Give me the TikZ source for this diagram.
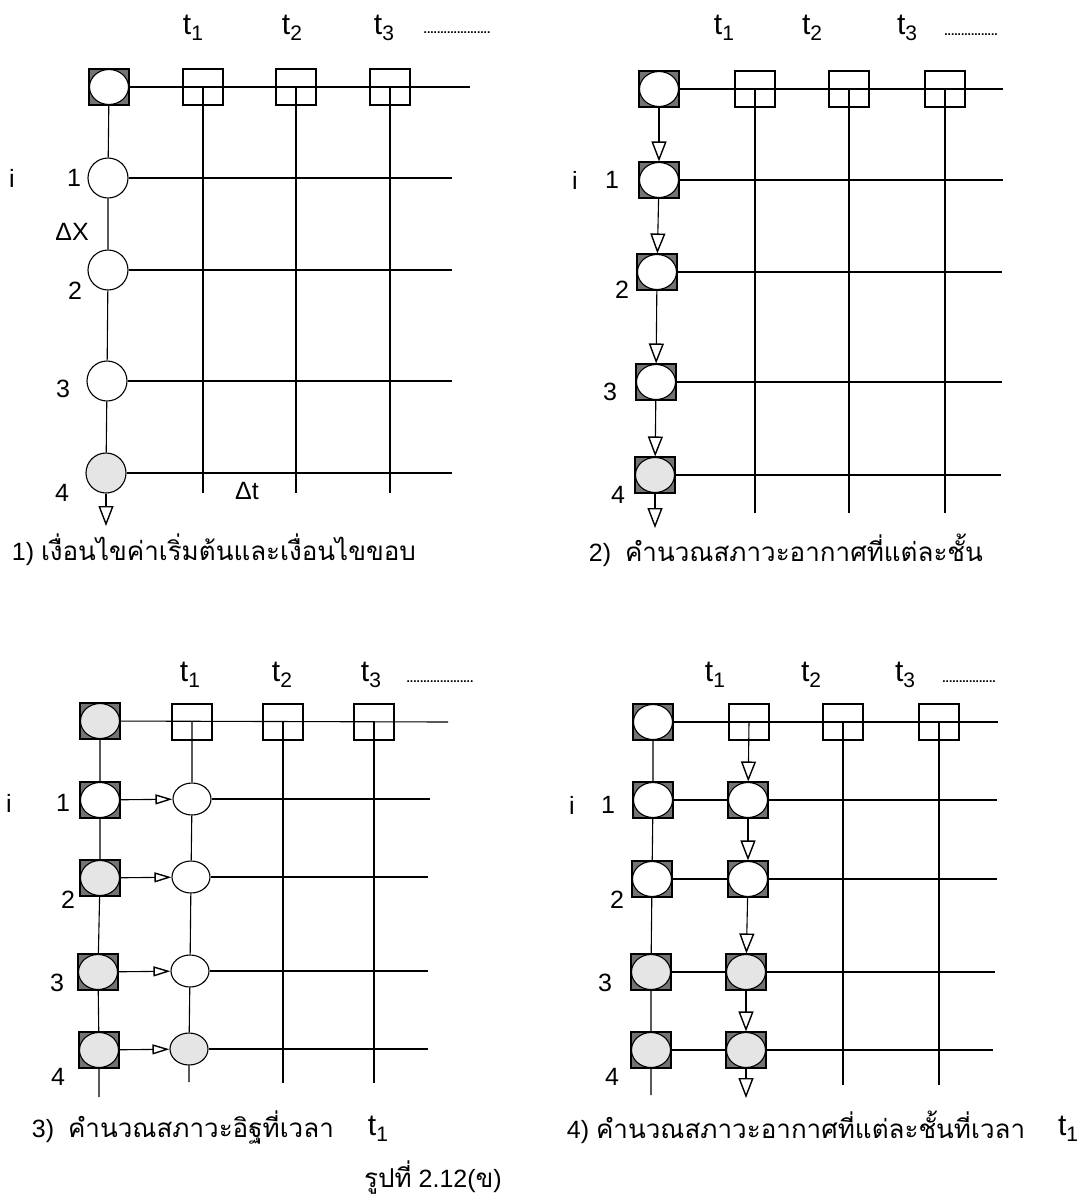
\documentclass[tikz,border=0pt]{standalone}
\usepackage{fontspec}
\setmainfont{Liberation Sans}
\newfontfamily\thaifont[Script=Thai]{Loma}
\usetikzlibrary{shapes.geometric,arrows.meta}

\newcommand{\tlab}[1]{{\fontsize{30}{30}\selectfont t}\raisebox{-0.45ex}{\fontsize{21}{21}\selectfont #1}}
\newcommand{\thaicap}[1]{{\thaifont\fontsize{26}{30}\selectfont #1}}

\begin{document}
\begin{tikzpicture}[x=1pt,y=-1pt,line width=1.1pt,font=\fontsize{25}{28}\selectfont,
    >={Triangle[open,length=20pt,width=15pt,line width=1.4pt]}]
  \tikzstyle{ring}=[circle,draw,minimum size=40pt,inner sep=0pt]
  \tikzstyle{oval}=[ellipse,draw,minimum width=38pt,minimum height=32pt,inner sep=0pt]
  \tikzstyle{tbox}=[rectangle,draw,minimum width=40pt,minimum height=36pt,inner sep=0pt]
  \tikzstyle{boxring}=[tbox,fill=black!55,path picture={\draw[fill=white] (path picture bounding box.center) ellipse (19.5pt and 17.5pt);}]
  \tikzstyle{boxdot}=[tbox,fill=black!55,path picture={\draw[fill=black!10] (path picture bounding box.center) ellipse (19.5pt and 17.5pt);}]
  \tikzstyle{dots}=[font=\bfseries\fontsize{12}{12}\selectfont]
  \tikzstyle{small}=[>={Triangle[open,length=17pt,width=10pt,line width=1.4pt]}]

  \useasboundingbox (0,0) rectangle (1084,1203);

  % 1)
  \node[boxring] (A0) at (109,87) {};
  \node[tbox] (At1) at (203,87) {};
  \node[tbox] (At2) at (296,87) {};
  \node[tbox] (At3) at (390,87) {};
  \node[ring] (A1) at (108,178) {};
  \node[ring] (A2) at (108,270) {};
  \node[ring] (A3) at (107,381) {};
  \node[ring,fill=black!10] (A4) at (106,473) {};
  \coordinate (Ae0) at (470,87);
  \coordinate (Ae1) at (452,178);
  \coordinate (Ae2) at (452,270);
  \coordinate (Ae3) at (452,381);
  \coordinate (Ae4) at (452,473);
  \coordinate (Ab1) at (203,493);
  \coordinate (Ab2) at (296,493);
  \coordinate (Ab3) at (390,493);
  \coordinate (Aout) at (106,526);

  \draw (A0) -- (Ae0);
  \draw (A1) -- (Ae1);
  \draw (A2) -- (Ae2);
  \draw (A3) -- (Ae3);
  \draw (A4) -- (Ae4);
  \draw (At1.center) -- (Ab1);
  \draw (At2.center) -- (Ab2);
  \draw (At3.center) -- (Ab3);
  \draw (A0) -- (A1) -- (A2) -- (A3) -- (A4);
  \draw[->] (A4) -- (Aout);

  \node at (193,28) {\tlab{1}};
  \node at (292,28) {\tlab{2}};
  \node at (384,28) {\tlab{3}};
  \node[dots] at (457,33) {....................};
  \node at (12,178) {i};
  \node at (74,178) {1};
  \node at (72,232) {ΔX};
  \node at (75,291) {2};
  \node at (63,389) {3};
  \node at (62,493) {4};
  \node at (247,491) {Δt};
  \node[anchor=west] at (8,550) {1) \thaicap{เงื่อนไขค่าเริ่มต้นและเงื่อนไขขอบ}};

  % 2)
  \node[boxring] (B0) at (659,89) {};
  \node[tbox] (Bt1) at (755,89) {};
  \node[tbox] (Bt2) at (849,89) {};
  \node[tbox] (Bt3) at (945,89) {};
  \node[boxring] (B1) at (659,180) {};
  \node[boxring] (B2) at (657,272) {};
  \node[boxring] (B3) at (656,382) {};
  \node[boxdot] (B4) at (655,475) {};
  \coordinate (Be0) at (1003,89);
  \coordinate (Be1) at (1003,180);
  \coordinate (Be2) at (1002,272);
  \coordinate (Be3) at (1002,382);
  \coordinate (Be4) at (1001,475);
  \coordinate (Bb1) at (755,513);
  \coordinate (Bb2) at (849,513);
  \coordinate (Bb3) at (945,513);
  \coordinate (Bout) at (655,528);

  \draw (B0) -- (Be0);
  \draw (B1) -- (Be1);
  \draw (B2) -- (Be2);
  \draw (B3) -- (Be3);
  \draw (B4) -- (Be4);
  \draw (Bt1.center) -- (Bb1);
  \draw (Bt2.center) -- (Bb2);
  \draw (Bt3.center) -- (Bb3);
  \draw[->] (B0) -- (B1);
  \draw[->] (B1) -- (B2);
  \draw[->] (B2) -- (B3);
  \draw[->] (B3) -- (B4);
  \draw[->] (B4) -- (Bout);

  \node at (724,28) {\tlab{1}};
  \node at (812,28) {\tlab{2}};
  \node at (907,28) {\tlab{3}};
  \node[dots] at (971,35) {................};
  \node at (575,180) {i};
  \node at (612,180) {1};
  \node at (622,290) {2};
  \node at (610,392) {3};
  \node at (618,495) {4};
  \node[anchor=west] at (585,550) {2)\ \ \thaicap{คำนวณสภาวะอากาศที่แต่ละชั้น}};

  % 3)
  \node[boxdot] (C0) at (100,721) {};
  \node[tbox] (Ct1) at (192,722) {};
  \node[tbox] (Ct2) at (283,722) {};
  \node[tbox] (Ct3) at (374,722) {};
  \node[boxring] (C1) at (100,800) {};
  \node[boxdot] (C2) at (100,878) {};
  \node[boxdot] (C3) at (98,972) {};
  \node[boxdot] (C4) at (99,1050) {};
  \node[oval] (C1b) at (192,799) {};
  \node[oval] (C2b) at (191,877) {};
  \node[oval] (C3b) at (190,971) {};
  \node[oval,fill=black!10] (C4b) at (189,1049) {};
  \coordinate (Ce0) at (448,722);
  \coordinate (Ce1) at (430,799);
  \coordinate (Ce2) at (428,877);
  \coordinate (Ce3) at (428,971);
  \coordinate (Ce4) at (428,1049);
  \coordinate (Cb1) at (189,1082);
  \coordinate (Cb2) at (283,1083);
  \coordinate (Cb3) at (374,1083);
  \coordinate (Cout) at (99,1097);

  \draw (C0) -- (Ce0);
  \draw (C1b) -- (Ce1);
  \draw (C2b) -- (Ce2);
  \draw (C3b) -- (Ce3);
  \draw (C4b) -- (Ce4);
  \draw (Ct2.center) -- (Cb2);
  \draw (Ct3.center) -- (Cb3);
  \draw (C0) -- (C1) -- (C2) -- (C3) -- (C4) -- (Cout);
  \draw (Ct1.center) -- (C1b) -- (C2b) -- (C3b) -- (C4b) -- (Cb1);
  \draw[->,small] (C1) -- (C1b);
  \draw[->,small] (C2) -- (C2b);
  \draw[->,small] (C3) -- (C3b);
  \draw[->,small] (C4) -- (C4b);

  \node at (190,675) {\tlab{1}};
  \node at (282,675) {\tlab{2}};
  \node at (371,675) {\tlab{3}};
  \node[dots] at (440,682) {....................};
  \node at (9,803) {i};
  \node at (63,803) {1};
  \node at (68,900) {2};
  \node at (57,983) {3};
  \node at (58,1077) {4};
  \node[anchor=west] at (28,1127) {3)\ \ \thaicap{คำนวณสภาวะอิฐที่เวลา}};
  \node at (378,1129) {\tlab{1}};
  \node at (433,1178) {\thaicap{รูปที่} 2.12(\thaicap{ข})};

  % 4)
  \node[boxring] (D0) at (653,722) {};
  \node[tbox] (Dt1) at (749,722) {};
  \node[tbox] (Dt2) at (843,722) {};
  \node[tbox] (Dt3) at (939,722) {};
  \node[boxring] (D1) at (653,800) {};
  \node[boxring] (D2) at (652,879) {};
  \node[boxdot] (D3) at (651,972) {};
  \node[boxdot] (D4) at (651,1050) {};
  \node[boxring] (D1b) at (748,800) {};
  \node[boxring] (D2b) at (748,879) {};
  \node[boxdot] (D3b) at (746,972) {};
  \node[boxdot] (D4b) at (746,1050) {};
  \coordinate (De0) at (998,722);
  \coordinate (De1) at (997,800);
  \coordinate (De2) at (997,879);
  \coordinate (De3) at (995,972);
  \coordinate (De4) at (993,1050);
  \coordinate (Db2) at (843,1085);
  \coordinate (Db3) at (939,1085);
  \coordinate (Dcol) at (651,1095);
  \coordinate (Dout) at (746,1098);

  \draw (D0) -- (De0);
  \draw (D1) -- (D1b) -- (De1);
  \draw (D2) -- (D2b) -- (De2);
  \draw (D3) -- (D3b) -- (De3);
  \draw (D4) -- (D4b) -- (De4);
  \draw (Dt2.center) -- (Db2);
  \draw (Dt3.center) -- (Db3);
  \draw (D0) -- (D1) -- (D2) -- (D3) -- (D4) -- (Dcol);
  \draw[->] (Dt1.center) -- (D1b);
  \draw[->] (D1b) -- (D2b);
  \draw[->] (D2b) -- (D3b);
  \draw[->] (D3b) -- (D4b);
  \draw[->] (D4b) -- (Dout);

  \node at (715,675) {\tlab{1}};
  \node at (811,675) {\tlab{2}};
  \node at (905,675) {\tlab{3}};
  \node[dots] at (969,682) {................};
  \node at (572,805) {i};
  \node at (608,805) {1};
  \node at (617,900) {2};
  \node at (605,983) {3};
  \node at (612,1077) {4};
  \node[anchor=west] at (563,1127) {4)\ \thaicap{คำนวณสภาวะอากาศที่แต่ละชั้นที่เวลา}};
  \node at (1068,1129) {\tlab{1}};
\end{tikzpicture}
\end{document}
